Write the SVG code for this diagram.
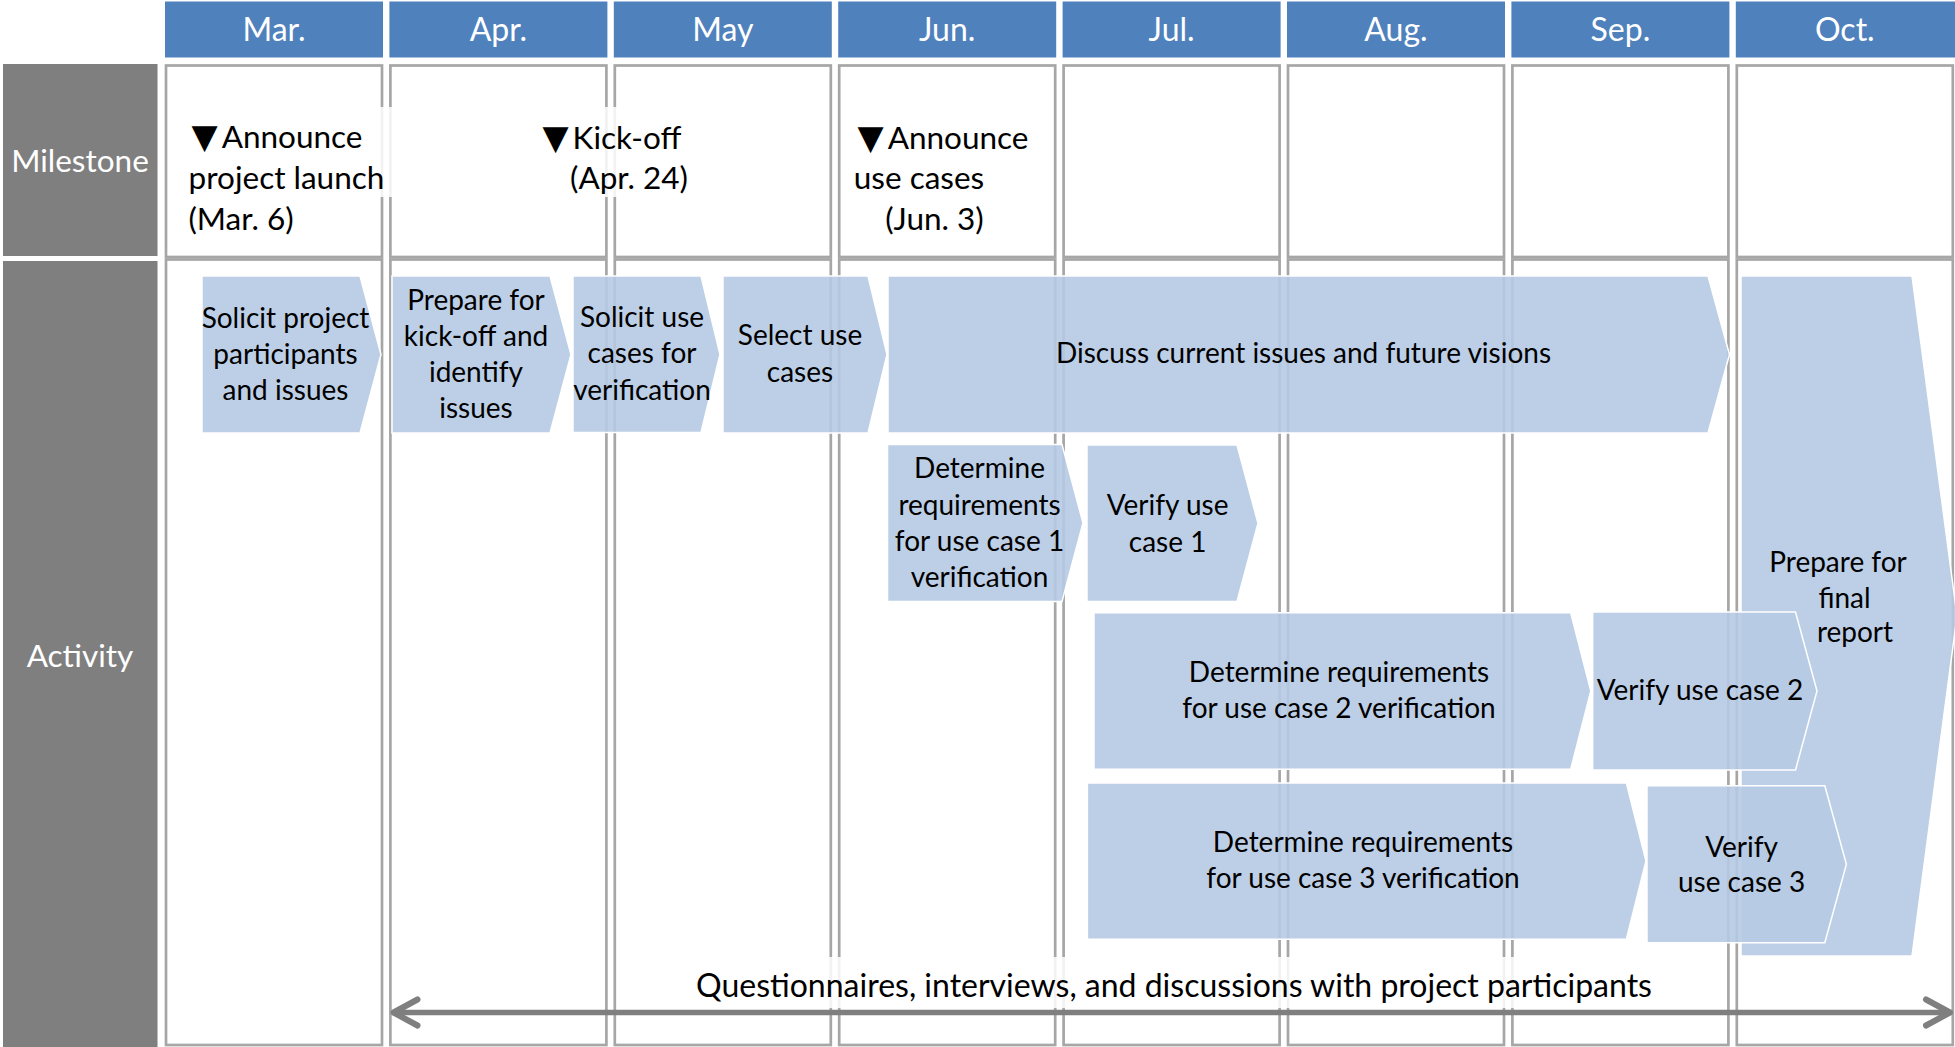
<svg xmlns="http://www.w3.org/2000/svg" width="1955" height="1047" viewBox="0 0 1955 1047">
<style>
.hdr{fill:#4F81BD}
.hdrt{font-family:Lato,'Liberation Sans',sans-serif;font-size:32px;fill:#FFFFFF;text-anchor:middle}
.lab{fill:#7F7F7F}
.labt{font-family:Lato,'Liberation Sans',sans-serif;font-size:31.5px;fill:#FFFFFF;text-anchor:middle}
.cell{fill:#FFFFFF;stroke:#A6A6A6;stroke-width:2.7}
.tbox{fill:#FFFFFF;fill-opacity:0.85}
.mt{font-family:Lato,'Liberation Sans','DejaVu Sans',sans-serif;font-size:31.5px;fill:#000000;text-anchor:middle}
.tri{font-family:'DejaVu Sans',sans-serif;font-size:34px}
.shp{fill:#B6CAE3;fill-opacity:0.9;stroke:#FFFFFF;stroke-width:1.5}
.at{font-family:Lato,'Liberation Sans',sans-serif;font-size:28px;fill:#000000;text-anchor:middle}
.qt{font-family:Lato,'Liberation Sans',sans-serif;font-size:32px;fill:#000000;text-anchor:middle}
.conn{stroke:#7F7F7F;stroke-width:5.5;fill:none}
</style>
<defs>
<marker id="chev" viewBox="-30 -17 35 34" refX="0" refY="0" markerWidth="35" markerHeight="34" markerUnits="userSpaceOnUse" orient="auto-start-reverse">
<path d="M-24,-13 L0,0 L-24,13" fill="none" stroke="#7F7F7F" stroke-width="6" stroke-linecap="round" stroke-linejoin="round"/>
</marker>
</defs>
<g id="header">
<rect class="hdr" x="165" y="1.5" width="218" height="56"/>
<rect class="hdr" x="389.4" y="1.5" width="218" height="56"/>
<rect class="hdr" x="613.8" y="1.5" width="218" height="56"/>
<rect class="hdr" x="838.2" y="1.5" width="218" height="56"/>
<rect class="hdr" x="1062.6" y="1.5" width="218" height="56"/>
<rect class="hdr" x="1287" y="1.5" width="218" height="56"/>
<rect class="hdr" x="1511.4" y="1.5" width="218" height="56"/>
<rect class="hdr" x="1735.8" y="1.5" width="220" height="56"/>
<text class="hdrt" x="274" y="41">Mar.</text>
<text class="hdrt" x="498.4" y="41">Apr.</text>
<text class="hdrt" x="722.8" y="41">May</text>
<text class="hdrt" x="947.2" y="41">Jun.</text>
<text class="hdrt" x="1171.6" y="41">Jul.</text>
<text class="hdrt" x="1396" y="41">Aug.</text>
<text class="hdrt" x="1620.4" y="41">Sep.</text>
<text class="hdrt" x="1844.8" y="41">Oct.</text>
</g>
<g id="row-labels">
<rect class="lab" x="3" y="64" width="154.5" height="192"/>
<text class="labt" x="80" y="171.5">Milestone</text>
<rect class="lab" x="3" y="261" width="154.5" height="786"/>
<text class="labt" x="80" y="667">Activity</text>
</g>
<g id="grid">
<rect class="cell" x="166" y="65.5" width="216" height="191.5"/>
<rect class="cell" x="390.4" y="65.5" width="216" height="191.5"/>
<rect class="cell" x="614.8" y="65.5" width="216" height="191.5"/>
<rect class="cell" x="839.2" y="65.5" width="216" height="191.5"/>
<rect class="cell" x="1063.6" y="65.5" width="216" height="191.5"/>
<rect class="cell" x="1288" y="65.5" width="216" height="191.5"/>
<rect class="cell" x="1512.4" y="65.5" width="216" height="191.5"/>
<rect class="cell" x="1736.8" y="65.5" width="216" height="191.5"/>
<rect class="cell" x="166" y="259.5" width="216" height="785.5"/>
<rect class="cell" x="390.4" y="259.5" width="216" height="785.5"/>
<rect class="cell" x="614.8" y="259.5" width="216" height="785.5"/>
<rect class="cell" x="839.2" y="259.5" width="216" height="785.5"/>
<rect class="cell" x="1063.6" y="259.5" width="216" height="785.5"/>
<rect class="cell" x="1288" y="259.5" width="216" height="785.5"/>
<rect class="cell" x="1512.4" y="259.5" width="216" height="785.5"/>
<rect class="cell" x="1736.8" y="259.5" width="216" height="785.5"/>
</g>
<g id="m-launch">
<rect class="tbox" x="180" y="107" width="215" height="90"/>
<text class="mt" x="277" y="148"><tspan class="tri">▼</tspan><tspan dx="4">Announce</tspan></text>
<text class="mt" x="286.5" y="189">project launch</text>
<text class="mt" x="241" y="230">(Mar. 6)</text>
</g>
<g id="m-kickoff">
<rect class="tbox" x="540" y="107" width="152" height="90"/>
<text class="mt" x="612" y="149"><tspan class="tri">▼</tspan><tspan dx="4">Kick-off</tspan></text>
<text class="mt" x="629" y="189">(Apr. 24)</text>
</g>
<g id="m-usecases">
<text class="mt" x="943" y="149"><tspan class="tri">▼</tspan><tspan dx="4">Announce</tspan></text>
<text class="mt" x="919" y="189">use cases</text>
<text class="mt" x="934.5" y="230">(Jun. 3)</text>
</g>
<g id="a-solicit-participants">
<polygon class="shp" points="202,276 360,276 381,354.5 360,433 202,433"/>
<text class="at" x="285.5" y="328">Solicit project</text>
<text class="at" x="285.5" y="364">participants</text>
<text class="at" x="285.5" y="400">and issues</text>
</g>
<g id="a-prepare-kickoff">
<polygon class="shp" points="392,276 550,276 571,354.5 550,433 392,433"/>
<text class="at" x="476" y="310">Prepare for</text>
<text class="at" x="476" y="346">kick-off and</text>
<text class="at" x="476" y="382">identify</text>
<text class="at" x="476" y="418">issues</text>
</g>
<g id="a-solicit-usecases">
<polygon class="shp" points="573,276 701,276 720,354.5 701,432.5 573,432.5"/>
<text class="at" x="642" y="327">Solicit use</text>
<text class="at" x="642" y="363">cases for</text>
<text class="at" x="642" y="400">verification</text>
</g>
<g id="a-select">
<polygon class="shp" points="723,276 868,276 887,354.5 868,433 723,433"/>
<text class="at" x="800" y="345">Select use</text>
<text class="at" x="800" y="381.5">cases</text>
</g>
<g id="a-discuss">
<polygon class="shp" points="888,276 1708,276 1729.5,354.5 1708,433 888,433"/>
<text class="at" x="1303.5" y="363">Discuss current issues and future visions</text>
</g>
<g id="a-final-report">
<polygon class="shp" points="1741,276 1912,276 1957,616 1912,956 1741,956"/>
<text class="at" x="1838" y="571.5">Prepare for</text>
<text class="at" x="1844.5" y="608">final</text>
<text class="at" x="1855" y="642">report</text>
</g>
<g id="a-req-uc1">
<polygon class="shp" points="887.5,444.5 1062,444.5 1083,523 1062,601.5 887.5,601.5"/>
<text class="at" x="979.5" y="478">Determine</text>
<text class="at" x="979.5" y="514.5">requirements</text>
<text class="at" x="979.5" y="551">for use case 1</text>
<text class="at" x="979.5" y="587">verification</text>
</g>
<g id="a-verify-uc1">
<polygon class="shp" points="1087,445 1237,445 1258,523.3 1237,601.5 1087,601.5"/>
<text class="at" x="1167.6" y="515">Verify use</text>
<text class="at" x="1167.6" y="551.5">case 1</text>
</g>
<g id="a-req-uc2">
<polygon class="shp" points="1094,612.7 1570.7,612.7 1590.8,691 1570.7,769.3 1094,769.3"/>
<text class="at" x="1339" y="681.5">Determine requirements</text>
<text class="at" x="1339" y="718">for use case 2 verification</text>
</g>
<g id="a-verify-uc2">
<polygon class="shp" points="1592.7,612 1795.5,612 1817,691 1795.5,770 1592.7,770"/>
<text class="at" x="1700" y="700">Verify use case 2</text>
</g>
<g id="a-req-uc3">
<polygon class="shp" points="1087.4,783 1626.4,783 1646,861 1626.4,939.3 1087.4,939.3"/>
<text class="at" x="1363" y="851.5">Determine requirements</text>
<text class="at" x="1363" y="888">for use case 3 verification</text>
</g>
<g id="a-verify-uc3">
<polygon class="shp" points="1647,785.7 1824.8,785.7 1846.4,864.2 1824.8,942.7 1647,942.7"/>
<text class="at" x="1741.6" y="856.5">Verify</text>
<text class="at" x="1741.6" y="891.5">use case 3</text>
</g>
<g id="connectors">
<rect class="tbox" x="650" y="957" width="1050" height="51"/>
<text class="qt" x="1174" y="997">Questionnaires, interviews, and discussions with project participants</text>
<line class="conn" x1="393.5" y1="1012.5" x2="1950" y2="1012.5" marker-start="url(#chev)" marker-end="url(#chev)"/>
</g>
</svg>
